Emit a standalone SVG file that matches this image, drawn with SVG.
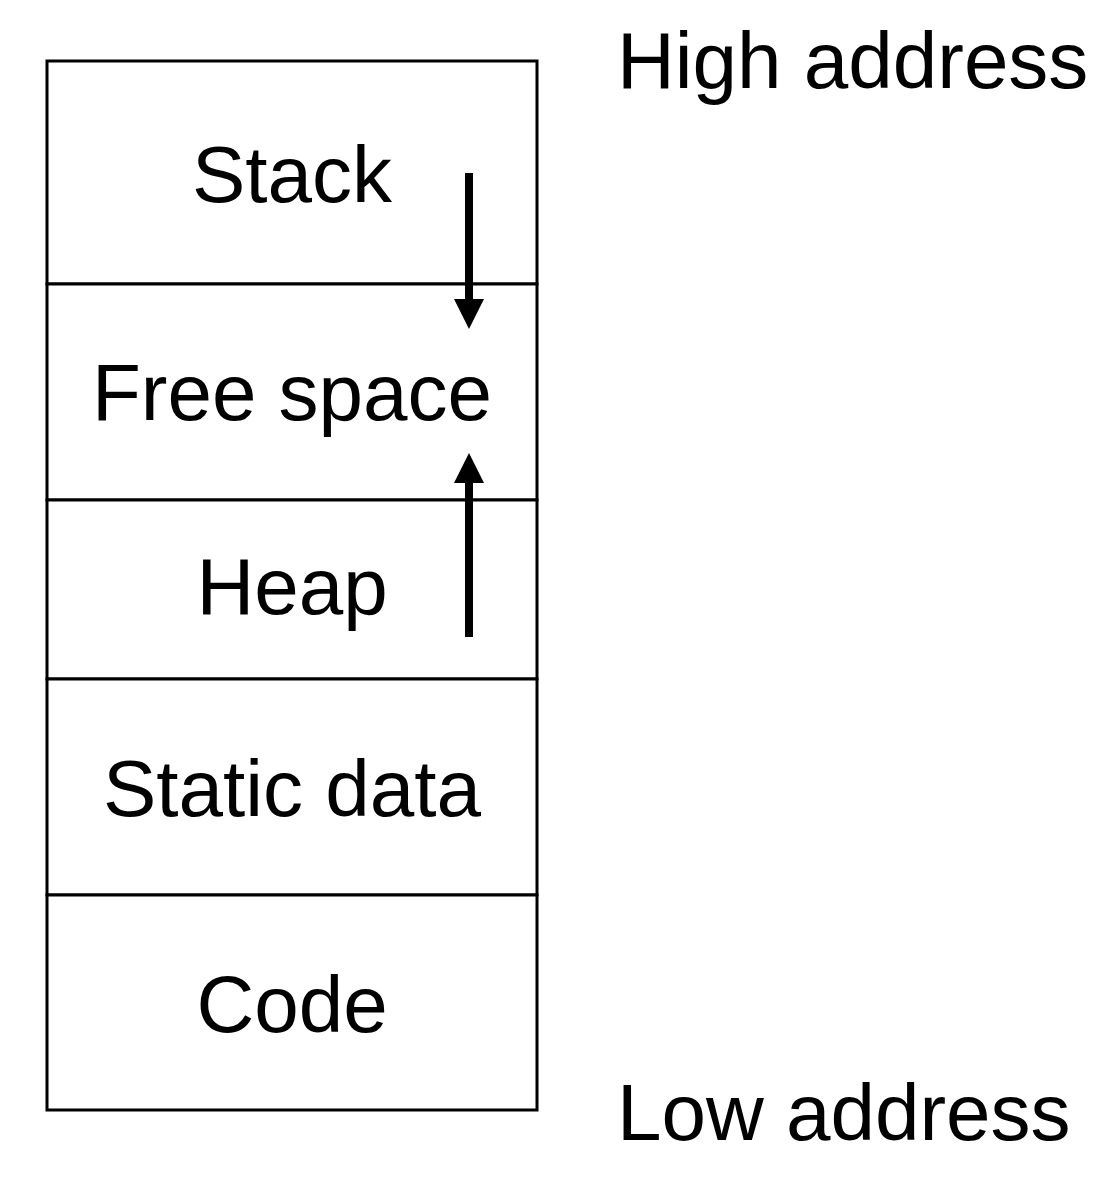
<svg xmlns="http://www.w3.org/2000/svg" width="1105" height="1190" viewBox="0 0 1105 1190">
<style>
.box{fill:#fff;stroke:#000;stroke-width:3}
.lbl{font-family:"Liberation Sans",Arial,sans-serif;font-size:80px;fill:#000;text-anchor:middle}
.side{font-family:"Liberation Sans",Arial,sans-serif;font-size:80px;fill:#000}
.arr{stroke:#000;stroke-width:8;fill:none}
</style>
<defs>
<marker id="ah" viewBox="0 0 30 30" refX="1" refY="15" markerWidth="30" markerHeight="30" markerUnits="userSpaceOnUse" orient="auto">
<path d="M0,0 L30,15 L0,30 Z" fill="#000"/>
</marker>
</defs>
<rect width="1105" height="1190" fill="#fff"/>
<g id="stack"><rect class="box" x="47" y="61" width="490" height="223"/><text class="lbl" x="292" y="202">Stack</text></g>
<g id="free"><rect class="box" x="47" y="284" width="490" height="216"/><text class="lbl" x="292" y="420">Free space</text></g>
<g id="heap"><rect class="box" x="47" y="500" width="490" height="179"/><text class="lbl" x="292" y="614">Heap</text></g>
<g id="static"><rect class="box" x="47" y="679" width="490" height="216"/><text class="lbl" x="292" y="816">Static data</text></g>
<g id="code"><rect class="box" x="47" y="895" width="490" height="215"/><text class="lbl" x="292" y="1032">Code</text></g>
<g id="high"><text class="side" x="617" y="88">High address</text></g>
<g id="low"><text class="side" x="617" y="1140">Low address</text></g>
<g id="connectors">
<line class="arr" x1="469" y1="173" x2="469" y2="300" marker-end="url(#ah)"/>
<line class="arr" x1="469" y1="637" x2="469" y2="482" marker-end="url(#ah)"/>
</g>
</svg>
